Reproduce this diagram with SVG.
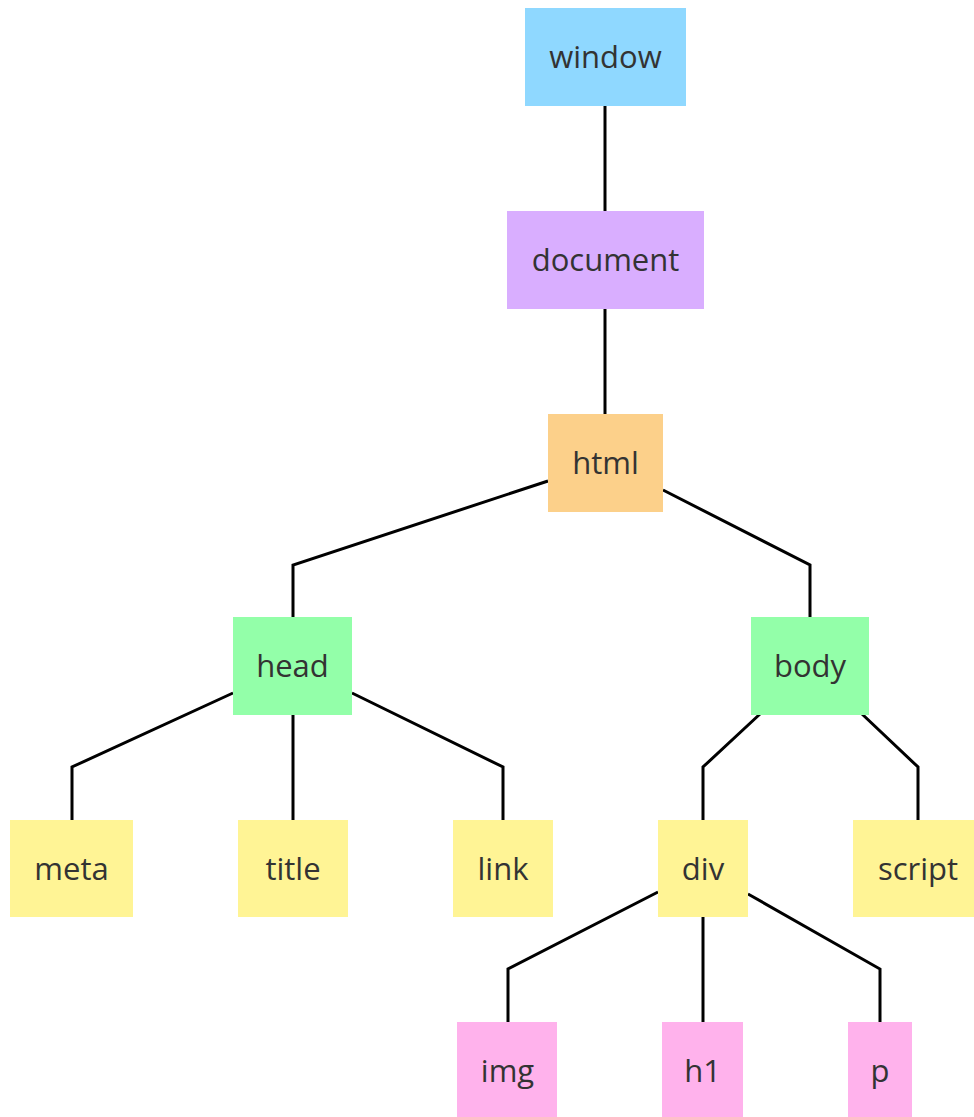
<svg xmlns="http://www.w3.org/2000/svg" width="974" height="1117" viewBox="0 0 974 1117">
<style>
.n text{font-family:"Open Sans","DejaVu Sans",sans-serif;font-size:31px;fill:#333;text-anchor:middle}
.e{fill:none;stroke:#000;stroke-width:3}
.blue{fill:#8fd8ff}.purple{fill:#d9aeff}.orange{fill:#fcd08a}.green{fill:#93ffa9}.yellow{fill:#fff495}.pink{fill:#ffb2ec}
</style>
<rect width="974" height="1117" fill="#fff"/>
<g id="connectors">
<path class="e" d="M605,106V211"/>
<path class="e" d="M605,309V414"/>
<path class="e" d="M548,481L293,565V617"/>
<path class="e" d="M663,490L810,565V617"/>
<path class="e" d="M233,693L72,767V820"/>
<path class="e" d="M293,715V820"/>
<path class="e" d="M352,693L503,767V820"/>
<path class="e" d="M760,714L703,767V820"/>
<path class="e" d="M862,714L918,767V820"/>
<path class="e" d="M658,892L508,969V1022"/>
<path class="e" d="M703,917V1022"/>
<path class="e" d="M748,894L880,969V1022"/>
</g>
<g id="window" class="n"><rect class="blue" x="525" y="8" width="161" height="98"/><text x="605.5" y="68">window</text></g>
<g id="document" class="n"><rect class="purple" x="507" y="211" width="197" height="98"/><text x="605.5" y="271">document</text></g>
<g id="html" class="n"><rect class="orange" x="548" y="414" width="115" height="98"/><text x="605.5" y="474">html</text></g>
<g id="head" class="n"><rect class="green" x="233" y="617" width="119" height="98"/><text x="292.5" y="677">head</text></g>
<g id="body" class="n"><rect class="green" x="751" y="617" width="118" height="98"/><text x="810" y="677">body</text></g>
<g id="meta" class="n"><rect class="yellow" x="10" y="820" width="123" height="97"/><text x="71.5" y="880">meta</text></g>
<g id="title" class="n"><rect class="yellow" x="238" y="820" width="110" height="97"/><text x="293" y="880">title</text></g>
<g id="link" class="n"><rect class="yellow" x="453" y="820" width="100" height="97"/><text x="503" y="880">link</text></g>
<g id="div" class="n"><rect class="yellow" x="658" y="820" width="90" height="97"/><text x="703" y="880">div</text></g>
<g id="script" class="n"><rect class="yellow" x="853" y="820" width="130" height="97"/><text x="918" y="880">script</text></g>
<g id="img" class="n"><rect class="pink" x="457" y="1022" width="100" height="95"/><text x="507.5" y="1082">img</text></g>
<g id="h1" class="n"><rect class="pink" x="662" y="1022" width="81" height="95"/><text x="702.5" y="1082">h1</text></g>
<g id="p" class="n"><rect class="pink" x="848" y="1022" width="64" height="95"/><text x="880" y="1082">p</text></g>
</svg>
